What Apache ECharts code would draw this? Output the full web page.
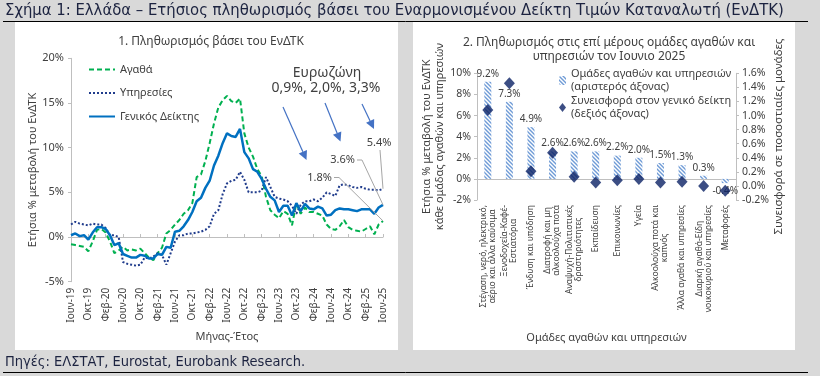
<!DOCTYPE html>
<html>
<head>
<meta charset="utf-8">
<script src="https://cdn.jsdelivr.net/npm/echarts@6/dist/echarts.min.js"></script>
<style>
  html, body { margin: 0; padding: 0; background: #d9d9d9; }
  #chart { width: 820px; height: 376px; }
</style>
</head>
<body>
<div id="chart"></div>
<script>
// μήνες (Ιούν-19 ... Ιούν-25)
const monthNames = ['Ιαν', 'Φεβ', 'Μαρ', 'Απρ', 'Μαϊ', 'Ιουν', 'Ιουλ', 'Αυγ', 'Σεπ', 'Οκτ', 'Νοε', 'Δεκ'];
const months = [];
for (let i = 0; i < 73; i++) {
  const m = (5 + i) % 12;
  const y = 19 + Math.floor((5 + i) / 12);
  months.push(monthNames[m] + '-' + y);
}

// 1. Πληθωρισμός βάσει του ΕνΔΤΚ (%)
const goods = [
  -0.8, -0.9, -1.0, -1.1, -1.6, -0.5, 0.8,
  0.9, 0.5, -0.5, -1.8, -1.5, -1.1, -1.5, -1.4, -1.5, -1.3, -1.8, -2.3,
  -2.6, -1.8, -1.2, 0.4, 0.8, 1.4, 1.9, 2.6, 3.0, 3.8, 6.7, 7.0,
  8.5, 10.5, 12.7, 14.5, 15.3, 15.8, 15.2, 15.0, 15.5, 11.6, 10.0, 9.0,
  7.6, 6.8, 4.5, 3.0, 2.5, 2.1, 2.9, 2.6, 1.3, 3.8, 2.6, 3.3,
  2.8, 2.8, 2.6, 2.4, 1.4, 0.9, 0.8, 1.2, 1.9, 1.1, 0.8, 0.7,
  0.6, 0.9, 1.2, 0.3, 1.4, 1.8
];
const services = [
  1.4, 1.7, 1.5, 1.4, 1.3, 1.5, 1.4,
  1.4, 1.0, 0.2, 0.2, 0.0, -2.8, -3.0, -3.1, -3.2, -3.1, -2.3, -2.4,
  -2.2, -1.8, -2.0, -3.1, -1.8, -0.5, 0.2, 0.2, 0.4, 0.4, 0.5, 0.6,
  0.8, 1.2, 2.6, 3.0, 4.8, 6.0, 6.3, 6.4, 7.3, 6.4, 5.0, 5.0,
  5.0, 5.2, 6.7, 5.6, 4.5, 4.3, 4.2, 4.0, 3.5, 2.6, 3.6, 4.0,
  4.0, 4.2, 4.0, 4.4, 5.0, 4.8, 4.6, 5.8, 5.9, 5.8, 5.6, 5.5,
  5.6, 5.4, 5.3, 5.3, 5.2, 5.4
];
const general = [
  0.2, 0.4, 0.1, 0.2, -0.3, 0.5, 1.1,
  1.1, 0.9, 0.2, -0.9, -0.7, -1.9, -2.1, -2.3, -2.3, -2.0, -2.1, -2.4,
  -2.4, -1.9, -2.0, -1.1, -1.2, 0.6, 0.7, 1.2, 1.9, 2.8, 4.0, 4.4,
  5.5, 6.3, 8.0, 9.1, 10.5, 11.6, 11.3, 11.2, 12.1, 9.5, 8.8, 7.6,
  7.3, 6.5, 5.4, 4.5, 4.1, 2.8, 3.5, 3.5, 2.4, 3.8, 2.9, 3.7,
  3.2, 3.1, 3.4, 3.2, 2.4, 2.5, 3.0, 3.2, 3.1, 3.1, 3.0, 2.9,
  3.1, 3.1, 3.1, 2.6, 3.3, 3.6
];
const lineNames = ['Αγαθά', 'Υπηρεσίες', 'Γενικός Δείκτης'];
const euroText = ['Ευρωζώνη', '0,9%, 2,0%, 3,3%'];

// 2. Ομάδες αγαθών και υπηρεσιών, Ιούνιος 2025
const groups = [
  'Στέγαση, νερό, ηλεκτρικό,\nαέριο και άλλα καύσιμα',
  'Ξενοδοχεία-Καφέ-\nΕστιατόρια',
  'Ένδυση και υπόδηση',
  'Διατροφή και μη\nαλκοολούχα ποτά',
  'Αναψυχή-Πολιτιστικές\nδραστηριότητες',
  'Εκπαίδευση',
  'Επικοινωνίες',
  'Υγεία',
  'Αλκοολούχα ποτά και\nκαπνός',
  'Άλλα αγαθά και υπηρεσίες',
  'Διαρκή αγαθά-Είδη\nνοικοκυριού και υπηρεσίες',
  'Μεταφορές'
];
const groupInflation = [9.2, 7.3, 4.9, 2.6, 2.6, 2.6, 2.2, 2.0, 1.5, 1.3, 0.3, -0.4];
const groupContribution = [1.08, 1.46, 0.21, 0.47, 0.13, 0.05, 0.08, 0.10, 0.05, 0.06, 0.0, -0.07];
const barNames = ['Ομάδες αγαθών και υπηρεσιών\n(αριστερός άξονας)', 'Συνεισφορά στον γενικό δείκτη\n(δεξιός άξονας)'];

const FONT = '"Noto Sans", sans-serif';
const TITLE_FONT = '"Liberation Sans Narrow", "DejaVu Sans Condensed", sans-serif';
const TXT = '#404040';
const AX = '#bfbfbf';

// γραμμοσκίαση για τις μπάρες
const hatchCanvas = (() => {
  const c = document.createElement('canvas');
  c.width = 4; c.height = 4;
  const g = c.getContext('2d');
  g.fillStyle = '#ffffff';
  g.fillRect(0, 0, 4, 4);
  g.strokeStyle = '#6f9bd6';
  g.lineWidth = 1.4;
  g.beginPath();
  g.moveTo(0, 0); g.lineTo(4, 4);
  g.moveTo(-1, 3); g.lineTo(1, 5);
  g.moveTo(3, -1); g.lineTo(5, 1);
  g.stroke();
  return c;
})();
const hatch = { image: hatchCanvas, repeat: 'repeat' };

const chart = echarts.init(document.getElementById('chart'));

const axisText = { color: TXT, fontFamily: FONT };

const option = {
  backgroundColor: '#d9d9d9',
  animation: false,
  textStyle: { fontFamily: FONT },
  title: [
    { text: '1. Πληθωρισμός βάσει του ΕνΔΤΚ', left: 206, top: 31, textAlign: 'center',
      textStyle: { fontSize: 12, fontWeight: 'normal', color: TXT, fontFamily: FONT } },
    { text: '2. Πληθωρισμός στις επί μέρους ομάδες αγαθών και\nυπηρεσιών τον Ιουνιο 2025', left: 604, top: 31, textAlign: 'center',
      textStyle: { fontSize: 12, fontWeight: 'normal', color: TXT, fontFamily: FONT, lineHeight: 14 } }
  ],
  legend: [
    {
      data: lineNames, orient: 'vertical', left: 83, top: 59,
      itemWidth: 26, itemHeight: 10, itemGap: 12.5,
      itemStyle: { opacity: 0 },
      textStyle: { fontSize: 11, color: TXT, fontFamily: FONT }
    },
    {
      data: barNames, orient: 'vertical', left: 554, top: 56,
      itemWidth: 7, itemHeight: 9, itemGap: -12,
      textStyle: { fontSize: 11, color: TXT, fontFamily: FONT, lineHeight: 13, padding: [13, 0, 0, 0] }
    }
  ],
  grid: [
    { left: 71, top: 58.3, width: 312, height: 223.4 },
    { left: 477, top: 73.3, width: 259, height: 126.7 }
  ],
  xAxis: [
    {
      gridIndex: 0, type: 'category', data: months, boundaryGap: false, position: 'bottom',
      axisLine: { show: false, onZero: false }, axisTick: { show: false },
      axisLabel: { ...axisText, interval: 3, rotate: 90, fontSize: 10, margin: 6 },
      name: 'Μήνας-Έτος', nameLocation: 'middle', nameGap: 50,
      nameTextStyle: { ...axisText, fontSize: 11 }
    },
    {
      gridIndex: 0, type: 'category', data: months, boundaryGap: false,
      axisLine: { onZero: true, lineStyle: { color: AX } },
      axisTick: { interval: 3, length: 3, lineStyle: { color: AX } },
      axisLabel: { show: false }
    },
    {
      gridIndex: 1, type: 'category', data: groups, position: 'bottom',
      axisLine: { show: false, onZero: false }, axisTick: { show: false },
      axisLabel: {
        ...axisText, interval: 0, rotate: 90, fontSize: 8.5, margin: 5, lineHeight: 9,
        formatter: v => v.split('\n').map(s => '{c|' + s + '}').join('\n'),
        rich: { c: { align: 'center', fontSize: 8.5, lineHeight: 9, color: TXT, fontFamily: FONT } }
      },
      name: 'Ομάδες αγαθών και υπηρεσιών', nameLocation: 'middle', nameGap: 132,
      nameTextStyle: { ...axisText, fontSize: 11 }
    },
    {
      gridIndex: 1, type: 'category', data: groups,
      axisLine: { onZero: true, onZeroAxisIndex: 1, lineStyle: { color: AX } },
      axisTick: { length: 3, lineStyle: { color: AX } },
      axisLabel: { show: false }
    }
  ],
  yAxis: [
    {
      gridIndex: 0, type: 'value', min: -5, max: 20, interval: 5,
      axisLine: { show: true, lineStyle: { color: AX } },
      axisTick: { show: true, length: 3, lineStyle: { color: AX } },
      splitLine: { show: false },
      axisLabel: { ...axisText, fontSize: 11, margin: 7, formatter: '{value}%' },
      name: 'Ετήσια % μεταβολή του ΕνΔΤΚ', nameLocation: 'middle', nameGap: 33,
      nameTextStyle: { ...axisText, fontSize: 11 }
    },
    {
      gridIndex: 1, type: 'value', position: 'left', min: -2, max: 10, interval: 2,
      axisLine: { show: true, lineStyle: { color: AX } },
      axisTick: { show: true, length: 3, lineStyle: { color: AX } },
      splitLine: { show: false },
      axisLabel: { ...axisText, fontSize: 10.5, margin: 6, formatter: '{value}%' },
      name: 'Ετήσια % μεταβολή του ΕνΔΤΚ\nκάθε ομάδας αγαθών και υπηρεσιών', nameLocation: 'middle', nameGap: 28,
      nameTextStyle: { ...axisText, fontSize: 11, lineHeight: 13 }
    },
    {
      gridIndex: 1, type: 'value', position: 'right', min: -0.2, max: 1.6, interval: 0.2,
      axisLine: { show: true, lineStyle: { color: AX } },
      axisTick: { show: true, length: 3, lineStyle: { color: AX } },
      splitLine: { show: false },
      axisLabel: { ...axisText, fontSize: 10.5, margin: 6, formatter: v => v.toFixed(1) + '%' },
      name: 'Συνεισφορά σε ποσοστιαίες μονάδες', nameLocation: 'middle', nameGap: 35,
      nameTextStyle: { ...axisText, fontSize: 11.5 }
    }
  ],
  series: [
    {
      name: lineNames[0], type: 'line', xAxisIndex: 0, yAxisIndex: 0, data: goods,
      symbol: 'none', lineStyle: { color: '#00b050', width: 2, type: [5, 3] }, itemStyle: { color: '#00b050' }, z: 3
    },
    {
      name: lineNames[1], type: 'line', xAxisIndex: 0, yAxisIndex: 0, data: services,
      symbol: 'none', lineStyle: { color: '#203c8c', width: 2, type: [2, 2] }, itemStyle: { color: '#203c8c' }, z: 4
    },
    {
      name: lineNames[2], type: 'line', xAxisIndex: 0, yAxisIndex: 0, data: general,
      symbol: 'none', lineStyle: { color: '#0070c0', width: 2.5 }, itemStyle: { color: '#0070c0' }, z: 5
    },
    {
      name: barNames[0], type: 'bar', xAxisIndex: 2, yAxisIndex: 1, barWidth: 7,
      data: groupInflation.map(v => ({ value: v, label: { position: v < 0 ? 'bottom' : 'top' } })),
      itemStyle: { color: hatch },
      label: { show: true, fontSize: 10, color: TXT, distance: 3, fontFamily: FONT, formatter: p => p.value.toFixed(1) + '%' }
    },
    {
      name: barNames[1], type: 'scatter', xAxisIndex: 2, yAxisIndex: 2, data: groupContribution,
      symbol: 'diamond', symbolSize: [11, 12], itemStyle: { color: '#0b2265' }, z: 5
    }
  ]
};

chart.setOption(option);

// σχολιασμοί
function arrow(x1, y1, x2, y2) {
  const dx = x2 - x1, dy = y2 - y1;
  const len = Math.hypot(dx, dy);
  const ux = dx / len, uy = dy / len;
  const hl = 9, hw = 4.5;
  const bx = x2 - ux * hl, by = y2 - uy * hl;
  return [
    { type: 'line', shape: { x1, y1, x2: bx, y2: by }, style: { stroke: '#4472c4', lineWidth: 1.2 }, z: 10 },
    { type: 'polygon', shape: { points: [[x2, y2], [bx - uy * hw, by + ux * hw], [bx + uy * hw, by - ux * hw]] },
      style: { fill: '#4472c4' }, z: 10 }
  ];
}

const last = months.length - 1;
const endPt = arr => chart.convertToPixel({ xAxisIndex: 0, yAxisIndex: 0 }, [last, arr[last]]);
const pG = endPt(goods), pS = endPt(services), pT = endPt(general);
const fmt = v => v.toFixed(1) + '%';
const lead = { stroke: '#a6a6a6', lineWidth: 1 };

const graphic = [
  { type: 'rect', shape: { x: 15, y: 22, width: 383, height: 328 }, style: { fill: '#fff' }, z: -100 },
  { type: 'rect', shape: { x: 413, y: 22, width: 382, height: 328 }, style: { fill: '#fff' }, z: -100 },
  { type: 'line', shape: { x1: 3, y1: 21.5, x2: 808, y2: 21.5 }, style: { stroke: '#000', lineWidth: 1 }, z: -110 },
  { type: 'line', shape: { x1: 3, y1: 372.5, x2: 808, y2: 372.5 }, style: { stroke: '#000', lineWidth: 1 }, z: -110 },
  { type: 'text', x: 5, y: 11, style: { text: 'Σχήμα 1: Ελλάδα – Ετήσιος πληθωρισμός βάσει του Εναρμονισμένου Δείκτη Τιμών Καταναλωτή (ΕνΔΤΚ)',
      fontSize: 16.5, fontFamily: TITLE_FONT, fill: '#1c2340', verticalAlign: 'middle' } },
  { type: 'text', x: 5, y: 362, style: { text: 'Πηγές: ΕΛΣΤΑΤ, Eurostat, Eurobank Research.',
      fontSize: 14.5, fontFamily: TITLE_FONT, fill: '#1c2340', verticalAlign: 'middle' } },
  { type: 'text', x: 327, y: 73, style: { text: euroText[0], fontSize: 14, fontFamily: FONT, fill: TXT, align: 'center', verticalAlign: 'middle' }, z: 10 },
  { type: 'text', x: 326, y: 88, style: { text: euroText[1], fontSize: 14, fontFamily: FONT, fill: TXT, align: 'center', verticalAlign: 'middle' }, z: 10 },
  ...arrow(283, 107, 306.5, 160),
  ...arrow(325, 103, 340.5, 141.5),
  ...arrow(362, 104, 374, 129),
  { type: 'text', x: 332, y: 177.5, style: { text: fmt(goods[last]), fontSize: 11, fontFamily: FONT, fill: TXT, align: 'right', verticalAlign: 'middle' }, z: 10 },
  { type: 'polyline', shape: { points: [[334, 177.5], [339, 177.5], pG] }, style: lead, z: 10 },
  { type: 'text', x: 355, y: 160, style: { text: fmt(general[last]), fontSize: 11, fontFamily: FONT, fill: TXT, align: 'right', verticalAlign: 'middle' }, z: 10 },
  { type: 'polyline', shape: { points: [[357, 160], [362, 160], pT] }, style: lead, z: 10 },
  { type: 'text', x: 379, y: 143, style: { text: fmt(services[last]), fontSize: 11, fontFamily: FONT, fill: TXT, align: 'center', verticalAlign: 'middle' }, z: 10 },
  { type: 'polyline', shape: { points: [[380, 150], pS] }, style: lead, z: 10 }
];

chart.setOption({ graphic });
</script>
</body>
</html>
